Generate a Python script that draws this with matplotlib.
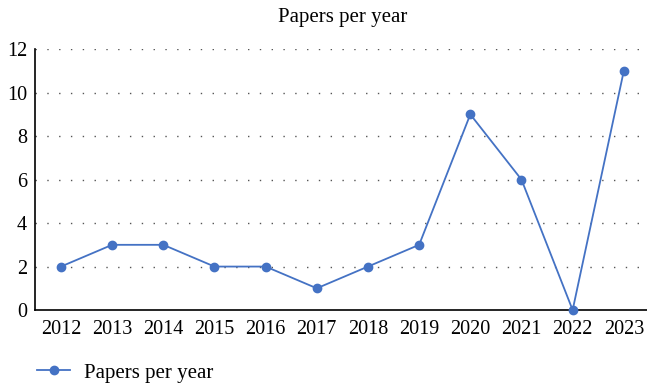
import matplotlib.pyplot as plt
import numpy as np

years = ["2012", "2013", "2014", "2015", "2016", "2017",
         "2018", "2019", "2020", "2021", "2022", "2023"]
papers = [2, 3, 3, 2, 2, 1, 2, 3, 9, 6, 0, 11]
y_ticks = [0, 2, 4, 6, 8, 10, 12]

plt.rcParams["font.family"] = ["Liberation Serif", "DejaVu Serif"]

fig = plt.figure(figsize=(6.47, 3.9), dpi=100)
ax = fig.add_axes([0.0547, 0.205, 0.949, 0.669])

x = np.arange(len(years))
line, = ax.plot(x, papers, color="#4472C4", linewidth=1.3, marker="o",
                markersize=6, label="Papers per year", clip_on=False, zorder=3)

ax.set_xlim(-0.5, len(years) - 0.5)
ax.set_ylim(0, 12)
ax.set_xticks(x)
ax.set_xticklabels(years)
ax.set_yticks(y_ticks)
ax.tick_params(length=0, labelsize=14.5, pad=6)
ax.tick_params(axis="x", pad=7)

for v in y_ticks[1:]:
    ax.axhline(v, color="#555555", linewidth=1.0, linestyle=(0, (1, 7.5)), zorder=1)

for s in ["top", "right"]:
    ax.spines[s].set_visible(False)
for s in ["left", "bottom"]:
    ax.spines[s].set_linewidth(1.2)
    ax.spines[s].set_color("black")

fig.text(0.529, 0.955, "Papers per year", ha="center", va="center", fontsize=15)

fig.legend(handles=[line], loc="center left", bbox_to_anchor=(0.028, 0.044),
           frameon=False, fontsize=15, handlelength=1.6, handletextpad=0.65)

fig.savefig("out.png", dpi=100)
